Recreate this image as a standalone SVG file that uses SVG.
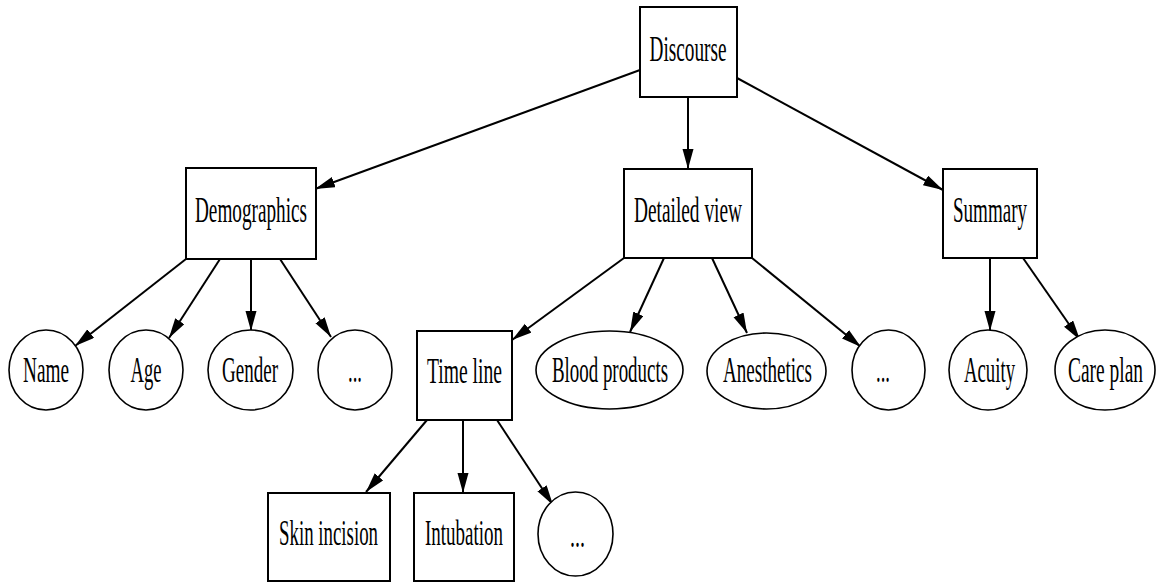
<svg xmlns="http://www.w3.org/2000/svg" width="1158" height="582" viewBox="0 0 1158 582">
<defs>
<style>
.box{fill:#fff;stroke:#000;stroke-width:2}
.ell{fill:#fff;stroke:#000;stroke-width:1.6}
.lbl{font-family:"Liberation Serif","Times New Roman",serif;font-size:35px;fill:#000;text-anchor:middle}
.edge{fill:none;stroke:#000;stroke-width:2;marker-end:url(#arr)}
</style>
<marker id="arr" markerUnits="userSpaceOnUse" markerWidth="22" markerHeight="12" refX="20" refY="5.5" orient="auto">
<path d="M0,0 L20,5.5 L0,11 z" fill="#000"/>
</marker>
</defs>
<rect width="1158" height="582" fill="#fff"/>
<g id="edges">
<line class="edge" x1="640" y1="70" x2="315" y2="189"/>
<line class="edge" x1="688" y1="97" x2="688" y2="169"/>
<line class="edge" x1="737" y1="78" x2="943" y2="190"/>
<line class="edge" x1="186" y1="259" x2="75" y2="346"/>
<line class="edge" x1="220" y1="259" x2="169" y2="338"/>
<line class="edge" x1="251" y1="259" x2="251" y2="331"/>
<line class="edge" x1="280" y1="259" x2="331" y2="337"/>
<line class="edge" x1="624" y1="258" x2="512" y2="340"/>
<line class="edge" x1="664" y1="258" x2="630" y2="332"/>
<line class="edge" x1="712" y1="258" x2="747" y2="333"/>
<line class="edge" x1="752" y1="258" x2="861" y2="347"/>
<line class="edge" x1="990" y1="258" x2="990" y2="331"/>
<line class="edge" x1="1023" y1="258" x2="1080" y2="340"/>
<line class="edge" x1="427" y1="420" x2="366" y2="492"/>
<line class="edge" x1="463" y1="420" x2="463" y2="493"/>
<line class="edge" x1="497" y1="420" x2="553" y2="505"/>
</g>
<g id="discourse"><rect class="box" x="640" y="7" width="97" height="90"/><text class="lbl" x="688" y="61" textLength="77" lengthAdjust="spacingAndGlyphs">Discourse</text></g>
<g id="demographics"><rect class="box" x="186" y="168" width="130" height="91"/><text class="lbl" x="251" y="222" textLength="112" lengthAdjust="spacingAndGlyphs">Demographics</text></g>
<g id="detailed"><rect class="box" x="624" y="169" width="128" height="89"/><text class="lbl" x="688" y="222" textLength="108" lengthAdjust="spacingAndGlyphs">Detailed view</text></g>
<g id="summary"><rect class="box" x="943" y="169" width="94" height="89"/><text class="lbl" x="990" y="222" textLength="74" lengthAdjust="spacingAndGlyphs">Summary</text></g>
<g id="name"><ellipse class="ell" cx="46" cy="370" rx="37" ry="40"/><text class="lbl" x="46" y="382" textLength="46" lengthAdjust="spacingAndGlyphs">Name</text></g>
<g id="age"><ellipse class="ell" cx="146" cy="370" rx="37" ry="40"/><text class="lbl" x="146" y="382" textLength="31" lengthAdjust="spacingAndGlyphs">Age</text></g>
<g id="gender"><ellipse class="ell" cx="250.5" cy="370" rx="42.5" ry="40"/><text class="lbl" x="250" y="382" textLength="56" lengthAdjust="spacingAndGlyphs">Gender</text></g>
<g id="demo-more"><ellipse class="ell" cx="355" cy="370" rx="37" ry="40"/><text class="lbl" x="355" y="382" textLength="14" lengthAdjust="spacingAndGlyphs">...</text></g>
<g id="timeline"><rect class="box" x="417" y="331" width="95" height="89"/><text class="lbl" x="464.5" y="383" textLength="75" lengthAdjust="spacingAndGlyphs">Time line</text></g>
<g id="blood"><ellipse class="ell" cx="609.5" cy="370" rx="73.5" ry="39"/><text class="lbl" x="610" y="382" textLength="116" lengthAdjust="spacingAndGlyphs">Blood products</text></g>
<g id="anesthetics"><ellipse class="ell" cx="766.5" cy="371" rx="59.5" ry="38"/><text class="lbl" x="767.5" y="382" textLength="89" lengthAdjust="spacingAndGlyphs">Anesthetics</text></g>
<g id="detail-more"><ellipse class="ell" cx="888.5" cy="370" rx="36.5" ry="40"/><text class="lbl" x="883" y="382" textLength="14" lengthAdjust="spacingAndGlyphs">...</text></g>
<g id="acuity"><ellipse class="ell" cx="988" cy="370" rx="39" ry="40"/><text class="lbl" x="989.5" y="382" textLength="51" lengthAdjust="spacingAndGlyphs">Acuity</text></g>
<g id="careplan"><ellipse class="ell" cx="1105" cy="370" rx="50" ry="40"/><text class="lbl" x="1105.5" y="382" textLength="75" lengthAdjust="spacingAndGlyphs">Care plan</text></g>
<g id="skin"><rect class="box" x="268" y="493" width="122" height="88"/><text class="lbl" x="328.5" y="545" textLength="99" lengthAdjust="spacingAndGlyphs">Skin incision</text></g>
<g id="intubation"><rect class="box" x="414" y="493" width="100" height="88"/><text class="lbl" x="464" y="545" textLength="78" lengthAdjust="spacingAndGlyphs">Intubation</text></g>
<g id="time-more"><ellipse class="ell" cx="575.5" cy="534" rx="37.5" ry="42"/><text class="lbl" x="577.5" y="547" textLength="15" lengthAdjust="spacingAndGlyphs">...</text></g>
</svg>
